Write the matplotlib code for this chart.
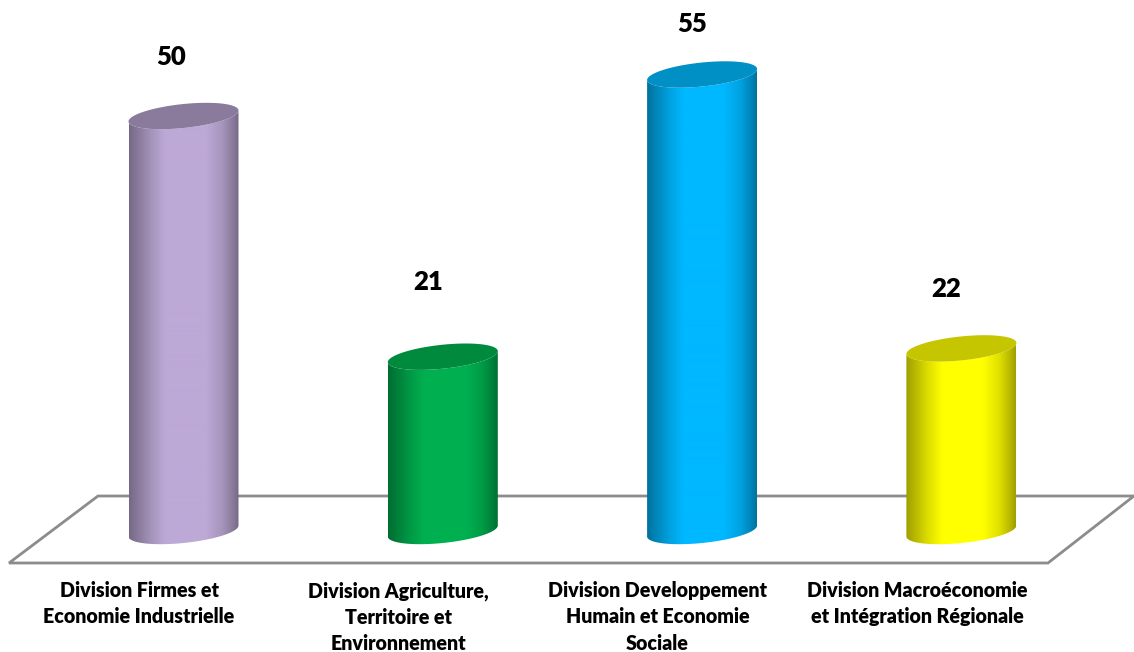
import numpy as np
import matplotlib
matplotlib.use('Agg')
import matplotlib.pyplot as plt
from matplotlib.patches import Polygon, PathPatch
from matplotlib.path import Path
from matplotlib.colors import to_rgb

categories = ['Division Firmes et\nEconomie Industrielle',
              'Division Agriculture,\nTerritoire et\nEnvironnement',
              'Division Developpement\nHumain et Economie\nSociale',
              'Division Macroéconomie\net Intégration Régionale']
values = [50, 21, 55, 22]
side_colors = ['#BDA9D6', '#00B050', '#00B8FF', '#FFFF00']
top_colors = ['#8A7B9C', '#008A3E', '#0090C6', '#C6C600']

# label placement, in pixels
label_dx = [-12, -15, -10, -15]
label_dy = [59, 75, 51, 59]

# pixel layout of the reference
W, H = 1134, 652
X0, STEP = 183.5, 259.3
FLOOR_BOTTOM, BASE, PX_PER_UNIT = 563, 531, 8.3
HALF_W, ELL_B, ELL_S = 55 / STEP, 12 / PX_PER_UNIT, 5.5 / PX_PER_UNIT


def xd(px):
    return (px - X0) / STEP


def yd(px):
    return (BASE - px) / PX_PER_UNIT


fig = plt.figure(figsize=(W / 100, H / 100), dpi=100)
ax = fig.add_axes([0, (H - FLOOR_BOTTOM) / H, 1, FLOOR_BOTTOM / H])
ax.patch.set_alpha(0)

# floor
floor = [(98, 496), (1134, 496), (1048, 563), (9, 563)]
ax.add_patch(Polygon([(xd(a), yd(b)) for a, b in floor], closed=True, fc='white',
                     ec='#8C8C8C', lw=2, clip_on=False, zorder=1))


def ellipse_pts(cx, v, t):
    return cx + HALF_W * np.cos(t), v + ELL_B * np.sin(t) + ELL_S * np.cos(t)


# shading across the cylinder: dark edges, flat light centre
u = np.linspace(0, 1, 220)
shade = np.interp(u, [0, 0.08, 0.2, 0.33, 0.7, 0.85, 0.95, 1],
                  [0.62, 0.72, 0.87, 1, 1, 0.88, 0.72, 0.62])

for i, val in enumerate(values):
    # body: lower arc at the base, then back along the top ellipse
    t = np.linspace(np.pi, 2 * np.pi, 80)
    bx, by = ellipse_pts(i, 0, t)
    tx, ty = ellipse_pts(i, val, t[::-1])
    pts = np.column_stack([np.r_[bx, tx], np.r_[by, ty]])
    body = PathPatch(Path(np.vstack([pts, pts[0]]), closed=True), fc='none', ec='none', zorder=2)
    ax.add_patch(body)
    rgb = np.array(to_rgb(side_colors[i]))
    grad = (shade[:, None] * rgb)[None, :, :]
    im = ax.imshow(grad, extent=(i - HALF_W, i + HALF_W, -3, val + 3), aspect='auto', zorder=2,
                   interpolation='bilinear')
    im.set_clip_path(body)

    t = np.linspace(0, 2 * np.pi, 160)
    ex, ey = ellipse_pts(i, val, t)
    ax.fill(ex, ey, color=top_colors[i], lw=0, zorder=3)

    ax.annotate(str(val), xy=(i, val), xytext=(label_dx[i] * 0.72, label_dy[i] * 0.72),
                textcoords='offset points', ha='center', va='center', fontsize=18.5,
                fontweight='heavy', family='Lato', color='black', zorder=4,
                annotation_clip=False)

ax.set_xlim(xd(0), xd(W))
ax.set_ylim(yd(FLOOR_BOTTOM), yd(0))

# category labels sit left of each cylinder
for s in ax.spines.values():
    s.set_visible(False)
ax.set_yticks([])
ax.set_xticks(np.arange(len(categories)) - 44.5 / STEP)
ax.set_xticklabels(categories, fontsize=14.1, fontweight='heavy', family='Lato', linespacing=1.46)
ax.tick_params(axis='x', length=0, pad=13)

fig.savefig('out.png', dpi=100, facecolor='white')
